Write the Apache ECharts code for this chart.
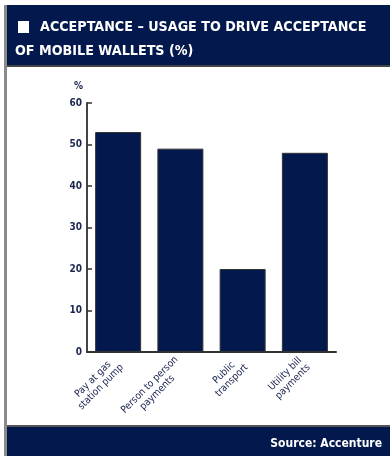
<!DOCTYPE html>
<html>
<head>
<meta charset="utf-8">
<script src="https://cdn.jsdelivr.net/npm/echarts@6/dist/echarts.min.js"></script>
<style>
  html, body { margin: 0; padding: 0; background: #fff; }
  #chart { width: 390px; height: 456px; }
</style>
</head>
<body>
<div id="chart"></div>
<script>
'use strict';

// data
const categories = [
  'Pay at gas\nstation pump',
  'Person to person\npayments',
  'Public\ntransport',
  'Utility bill\npayments'
];
const usage = [53, 49, 20, 48];
const yTicks = [0, 10, 20, 30, 40, 50, 60];

const NAVY = '#03194d';
const INK = '#1a2550';
const FONT = '"DejaVu Sans Condensed", "Liberation Sans Narrow", sans-serif';

const chart = echarts.init(document.getElementById('chart'), null, { renderer: 'canvas' });

// each line wrapped in a rich token so the two lines stay centred on each other
const richLabel = (val) =>
  val.split('\n').map((l) => '{c|' + l + '}').join('\n');

chart.setOption({
  animation: false,
  grid: { left: 87, right: 54, top: 103, bottom: 104 },
  graphic: [
    // header band
    { type: 'rect', shape: { x: 4, y: 5, width: 386, height: 61 }, style: { fill: NAVY } },
    { type: 'rect', shape: { x: 4, y: 65, width: 386, height: 2 }, style: { fill: '#444' } },
    { type: 'rect', shape: { x: 18, y: 21, width: 11, height: 12 }, style: { fill: '#fff' } },
    {
      type: 'text', left: 40, top: 20,
      style: { text: 'ACCEPTANCE – USAGE TO DRIVE ACCEPTANCE', fill: '#fff',
        font: 'bold 14.2px ' + FONT }
    },
    {
      type: 'text', left: 15, top: 44,
      style: { text: 'OF MOBILE WALLETS (%)', fill: '#fff', font: 'bold 14.2px ' + FONT }
    },
    // footer band
    { type: 'rect', shape: { x: 4, y: 426, width: 386, height: 30 }, style: { fill: NAVY } },
    { type: 'rect', shape: { x: 4, y: 425, width: 386, height: 2 }, style: { fill: '#555' } },
    {
      type: 'text', right: 8, top: 438,
      style: { text: 'Source: Accenture', fill: '#fff', font: 'bold 12px ' + FONT }
    },
    // left frame line
    { type: 'rect', shape: { x: 4, y: 5, width: 3, height: 451 }, style: { fill: '#8a8a8a' } },
    // unit label
    {
      type: 'text', left: 74, top: 81,
      style: { text: '%', fill: INK, font: 'bold 10px ' + FONT }
    }
  ],
  xAxis: {
    type: 'category',
    data: categories,
    axisLine: { lineStyle: { color: '#333', width: 2 } },
    axisTick: { show: false },
    axisLabel: {
      interval: 0,
      rotate: 45,
      margin: 10,
      color: INK,
      fontFamily: FONT,
      fontSize: 10,
      lineHeight: 11,
      formatter: richLabel,
      rich: { c: { align: 'center', fontFamily: FONT, fontSize: 10, color: INK } }
    }
  },
  yAxis: {
    type: 'value',
    min: yTicks[0],
    max: yTicks[yTicks.length - 1],
    interval: 10,
    splitLine: { show: false },
    axisLine: { show: true, lineStyle: { color: '#444', width: 2 } },
    axisTick: { show: true, inside: true, length: 5, lineStyle: { color: '#333', width: 1.5 } },
    axisLabel: { color: INK, fontFamily: FONT, fontSize: 10, fontWeight: 'bold', margin: 5 }
  },
  series: [{
    type: 'bar',
    data: usage,
    barWidth: 46,
    itemStyle: { color: NAVY, borderColor: '#333', borderWidth: 1 }
  }]
});
</script>
</body>
</html>
